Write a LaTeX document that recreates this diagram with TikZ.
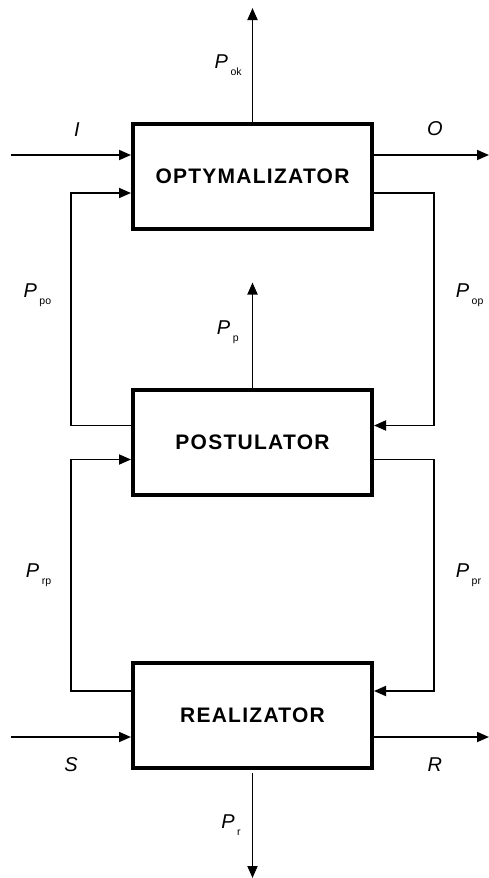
\documentclass[tikz,border=0pt]{standalone}
\usepackage{fontspec}
\setmainfont{Liberation Sans}
\usetikzlibrary{arrows.meta,positioning}
\newfontfamily\boxfont[LetterSpace=6]{Liberation Sans}
\newcommand{\sig}[2]{\textit{#1}\kern2.5pt\raisebox{-7pt}{\fontsize{10.5}{10.5}\selectfont #2}}

\begin{document}
\begin{tikzpicture}[
  node distance=156.5pt,
  box/.style={draw,line width=4pt,minimum width=239pt,minimum height=105pt,
    font=\boxfont\fontsize{21}{21}\selectfont\bfseries},
  arrow/.style={-{Triangle[length=12pt,width=10pt]},line width=1.8pt},
  lbl/.style={font=\fontsize{20}{20}\selectfont,inner sep=0pt}
]
\useasboundingbox (0,0) rectangle (489pt,-878pt);
\node[box] (opt) at (252.5pt,-176.5pt) {OPTYMALIZATOR};
\node[box,below=of opt] (post) {POSTULATOR};
\node[box,below=164.5pt of post] (real) {REALIZATOR};
\coordinate (iin) at ([shift={(-120pt,21.5pt)}]opt.west);
\coordinate (sin) at ([shift={(-120pt,-21.5pt)}]real.west);
\draw[arrow] (opt.north) -- ++(0,114pt) node[lbl,pos=0.5,left=10pt] {\sig{P}{ok}};
\draw[arrow] (iin) -- ([yshift=21.5pt]opt.west) node[lbl,pos=0.55,above=18pt] {\textit{I}};
\draw[arrow] ([yshift=21.5pt]opt.east) -- ++(115pt,0) node[lbl,pos=0.53,above=18pt] {\textit{O}};
\draw[arrow] ([yshift=16.5pt]post.west) -- ++(-60pt,0) |- node[lbl,pos=0.28,left=19pt] {\sig{P}{po}} ([yshift=-16.5pt]opt.west);
\draw[arrow] ([yshift=-16.5pt]opt.east) -- ++(60pt,0) |- node[lbl,pos=0.22,right=21pt] {\sig{P}{op}} ([yshift=16.5pt]post.east);
\draw[arrow] (post.north) -- ++(0,105pt) node[lbl,pos=0.53,left=13pt] {\sig{P}{p}};
\draw[arrow] ([yshift=24.5pt]real.west) -- ++(-60pt,0) |- node[lbl,pos=0.25,left=19pt] {\sig{P}{rp}} ([yshift=-17.5pt]post.west);
\draw[arrow] ([yshift=-17.5pt]post.east) -- ++(60pt,0) |- node[lbl,pos=0.25,right=21pt] {\sig{P}{pr}} ([yshift=24.5pt]real.east);
\draw[arrow] (sin) -- ([yshift=-21.5pt]real.west) node[lbl,pos=0.5,below=20pt] {\textit{S}};
\draw[arrow] ([yshift=-21.5pt]real.east) -- ++(115pt,0) node[lbl,pos=0.53,below=20pt] {\textit{R}};
\draw[arrow] ([yshift=-3pt]real.south) -- ++(0,-105pt) node[lbl,pos=0.5,left=11pt] {\sig{P}{r}};
\end{tikzpicture}
\end{document}
